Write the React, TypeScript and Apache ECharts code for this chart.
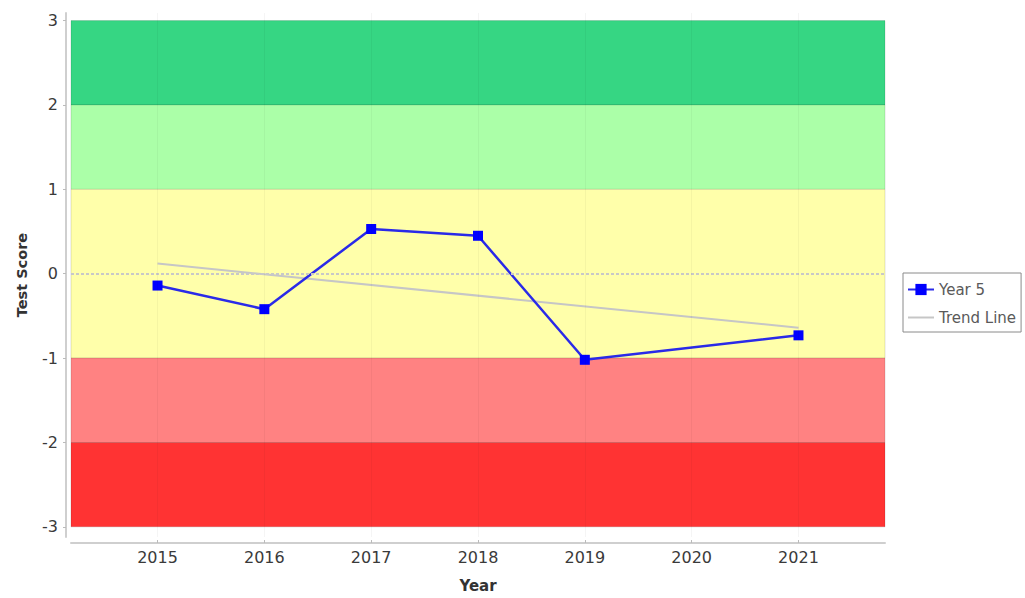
import React, { useEffect, useRef } from "react";
import * as echarts from "echarts";

const years = [2015, 2016, 2017, 2018, 2019, 2020, 2021];
const year5Scores: (number | null)[] = [-0.14, -0.42, 0.53, 0.45, -1.02, null, -0.73];
const trendYears = [2015, 2021];
const trendValues = [0.12, -0.64];
const yTicks = [-3, -2, -1, 0, 1, 2, 3];
const bands = [
  { from: 2, to: 3, color: "#36d683" },
  { from: 1, to: 2, color: "#abffa8" },
  { from: -1, to: 1, color: "#ffffaa" },
  { from: -2, to: -1, color: "#ff8282" },
  { from: -3, to: -2, color: "#ff3333" },
];

const FONT = "DejaVu Sans, Verdana, sans-serif";

export default function App() {
  const ref = useRef<HTMLDivElement>(null);
  useEffect(() => {
    if (!ref.current) return;
    const chart = echarts.init(ref.current, undefined, { renderer: "svg" });
    chart.setOption({
      animation: false,
      textStyle: { fontFamily: FONT },
      grid: { left: 71, right: 140, top: 13, bottom: 61, outerBoundsMode: "none", containLabel: false },
      legend: {
        orient: "vertical",
        left: 903,
        top: 273,
        borderColor: "#8a8a8a",
        borderWidth: 1,
        padding: [9, 5, 7, 4],
        itemGap: 13,
        itemWidth: 26,
        itemHeight: 14,
        textStyle: { fontFamily: FONT, fontSize: 15, color: "#5a5a5a" },
        data: ["Year 5", { name: "Trend Line", itemStyle: { opacity: 0 } }],
      },
      xAxis: {
        type: "value",
        min: 2014.19,
        max: 2021.81,
        offset: 6,
        name: "Year",
        nameLocation: "middle",
        nameGap: 35,
        nameTextStyle: { fontFamily: FONT, fontSize: 15, fontWeight: "bold", color: "#333" },
        axisLine: { show: true, onZero: false, lineStyle: { color: "#cfcfcf", width: 2 } },
        axisTick: { show: true, inside: true, length: 3, customValues: years, lineStyle: { color: "#bbb" } },
        axisLabel: {
          customValues: years,
          margin: 6,
          fontSize: 16,
          color: "#3a3a3a",
          fontFamily: FONT,
          formatter: (v: number) => String(Math.round(v)),
        },
        splitLine: { show: false },
      },
      yAxis: {
        type: "value",
        min: -3.12,
        max: 3.09,
        offset: 5,
        name: "Test Score",
        nameLocation: "middle",
        nameGap: 37,
        nameRotate: 90,
        nameTextStyle: { fontFamily: FONT, fontSize: 14.5, fontWeight: "bold", color: "#333" },
        axisLine: { show: true, onZero: false, lineStyle: { color: "#cfcfcf", width: 2 } },
        axisTick: { show: true, length: 3, customValues: yTicks, lineStyle: { color: "#bbb" } },
        axisLabel: {
          customValues: yTicks,
          margin: 8,
          fontSize: 16,
          color: "#3a3a3a",
          fontFamily: FONT,
          formatter: (v: number) => String(Math.round(v)),
        },
        splitLine: { show: false },
      },
      series: [
        {
          name: "bands",
          type: "line",
          data: [],
          silent: true,
          markArea: {
            silent: true,
            data: bands.map((b) => [
              { xAxis: "min", yAxis: b.to, itemStyle: { color: b.color, borderColor: "rgba(0,0,0,0.12)", borderWidth: 1 } },
              { xAxis: "max", yAxis: b.from },
            ]),
          },
          markLine: {
            silent: true,
            symbol: "none",
            label: { show: false },
            data: [
              { yAxis: 0, lineStyle: { color: "#c8c8c8", type: [3, 2], width: 2 } },
              ...years.map((y) => ({ xAxis: y, lineStyle: { color: "rgba(0,0,0,0.04)", type: "solid", width: 1 } })),
            ],
          },
        },
        {
          name: "Trend Line",
          type: "line",
          data: trendYears.map((y, i) => [y, trendValues[i]]),
          symbol: "none",
          lineStyle: { color: "#c6c6c6", width: 2 },
          itemStyle: { color: "#c6c6c6" },
          z: 3,
        },
        {
          name: "Year 5",
          type: "line",
          data: years.map((y, i) => [y, year5Scores[i]]),
          connectNulls: true,
          symbol: "rect",
          symbolSize: 10,
          lineStyle: { color: "#2a2ae8", width: 2.5 },
          itemStyle: { color: "#0000ff" },
          z: 4,
        },
      ],
    });
    return () => chart.dispose();
  }, []);
  return <div ref={ref} style={{ position: "absolute", left: 0, top: 0, width: 1025, height: 598 }} />;
}
